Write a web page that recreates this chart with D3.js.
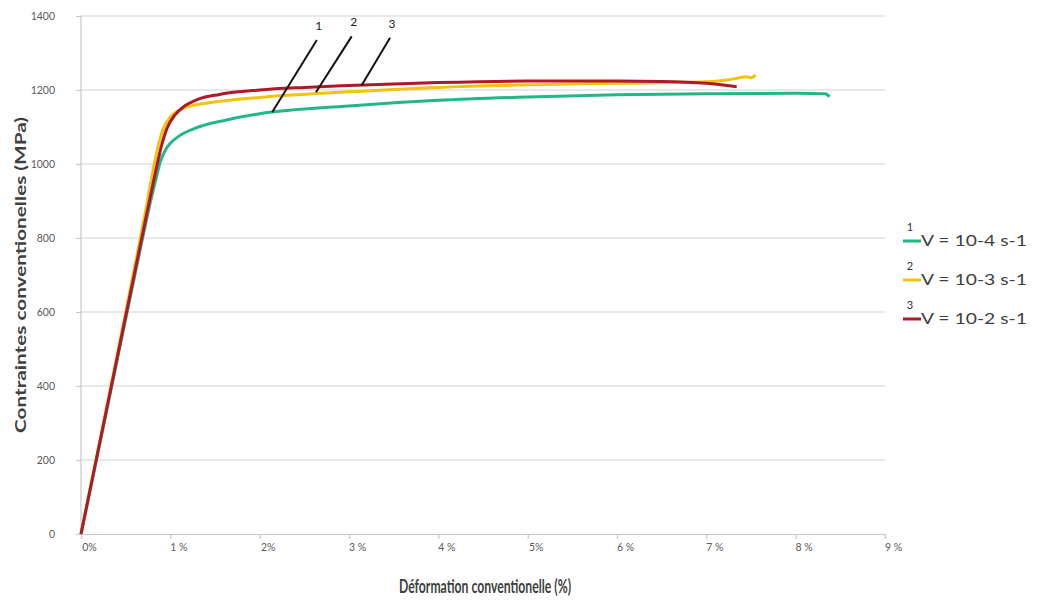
<!DOCTYPE html>
<html><head><meta charset="utf-8">
<script src="https://cdn.jsdelivr.net/npm/d3@7"></script>
<style>body{margin:0;background:#fff}svg{display:block}text{font-family:Lato,"Open Sans",sans-serif}</style>
</head><body><svg id="c" width="1047" height="600"></svg>
<script>
const xTicks=[0,1,2,3,4,5,6,7,8,9];
const xTickLabels=["0%","1 %","2%","3 %","4 %","5%","6 %","7 %","8 %","9 %"];
const yTicks=[0,200,400,600,800,1000,1200,1400];
const seriesNames=["V = 10-4 s-1","V = 10-3 s-1","V = 10-2 s-1"];
const seriesNums=["1","2","3"];
const colors=["#22b884","#f2c30f","#b0182a"];
const greenPts=[[0,0],[0.345,400],[0.69,800],[0.78,900],[0.84,960],[0.89,1008],[0.95,1040],[1.0,1056],[1.1,1076],[1.26,1095],[1.63,1119],[2.0,1136],[3.0,1157],[4.0,1172],[5.0,1181],[6.0,1187],[7.0,1190],[8.0,1191],[8.33,1190],[8.38,1182]];
const yellowPts=[[0,0],[0.335,400],[0.665,800],[0.74,895],[0.80,975],[0.86,1045],[0.92,1095],[0.99,1124],[1.08,1143],[1.2,1155],[1.45,1166],[2.0,1180],[3.0,1195],[4.0,1207],[5.0,1214],[6.0,1218],[7.0,1222],[7.23,1227],[7.35,1232],[7.45,1236],[7.5,1233],[7.55,1241]];
const redPts=[[0,0],[0.34,400],[0.68,800],[0.77,905],[0.84,985],[0.90,1048],[0.96,1095],[1.05,1132],[1.15,1155],[1.3,1174],[1.55,1188],[2.0,1200],[2.5,1207],[3.0,1212],[4.0,1220],[5.0,1224],[6.0,1224],[6.5,1223],[7.0,1218],[7.34,1209]];
const series=[greenPts,yellowPts,redPts];
// annotation leader lines: [strain, stress] at the curve end and at the top end
const annot=[{num:"1",from:[2.14,1140],to:[2.64,1335]},{num:"2",from:[2.63,1194],to:[3.03,1345]},{num:"3",from:[3.14,1212],to:[3.46,1341]}];

const svg=d3.select("#c");
const L=81,R=885,T=16,B=534;
const x=d3.scaleLinear().domain([0,9]).range([L,R]);
const y=d3.scaleLinear().domain([0,1400]).range([B,T]);

svg.append("g").selectAll("line").data(yTicks.filter(d=>d>0)).join("line")
 .attr("x1",L).attr("x2",R).attr("y1",d=>y(d)).attr("y2",d=>y(d))
 .attr("stroke","#d4d4d4").attr("stroke-width",1.2);
const yAx=svg.append("g").attr("transform",`translate(${L},0)`)
 .call(d3.axisLeft(y).tickValues(yTicks).tickSize(5).tickFormat(d3.format("d")));
const xAx=svg.append("g").attr("transform",`translate(0,${B})`)
 .call(d3.axisBottom(x).tickValues(xTicks).tickSize(5).tickFormat((d,i)=>xTickLabels[i]));
[yAx,xAx].forEach(g=>{
 g.selectAll("path,line").attr("stroke","#c8c8c8").attr("stroke-width",1.2);
 g.selectAll("text").attr("fill","#5a5a5a").attr("font-size",10.5);
});
yAx.select(".domain").attr("d",`M0,${T}V${B}`);
yAx.selectAll("text").attr("x",-26);
xAx.selectAll("text").attr("dx",8).attr("y",10);

const line=d3.line().x(d=>x(d[0])).y(d=>y(d[1])).curve(d3.curveMonotoneX);
series.forEach((s,i)=>{
 svg.append("path").datum(s).attr("d",line).attr("fill","none")
  .attr("stroke",colors[i]).attr("stroke-width",3).attr("stroke-linejoin","round");
});

const ag=svg.append("g");
annot.forEach(a=>{
 ag.append("line").attr("x1",x(a.from[0])).attr("y1",y(a.from[1]))
  .attr("x2",x(a.to[0])).attr("y2",y(a.to[1])).attr("stroke","#111").attr("stroke-width",2);
 ag.append("text").attr("x",x(a.to[0])+2).attr("y",y(a.to[1])-10)
  .attr("text-anchor","middle").attr("font-size",12).attr("fill","#222").text(a.num);
});

const lg=svg.append("g");
seriesNames.forEach((n,i)=>{
 const yy=241+i*39;
 lg.append("line").attr("x1",903).attr("x2",921).attr("y1",yy).attr("y2",yy)
  .attr("stroke",colors[i]).attr("stroke-width",3);
 lg.append("text").attr("x",910).attr("y",yy-10).attr("font-size",11).attr("fill","#333")
  .attr("text-anchor","middle").text(seriesNums[i]);
 lg.append("text").attr("x",921).attr("y",yy+5).attr("font-size",15).attr("fill","#404040")
  .attr("textLength",106).attr("lengthAdjust","spacingAndGlyphs").text(n);
});

svg.append("text").attr("transform","translate(26,275) rotate(-90)").attr("text-anchor","middle")
 .attr("font-size",16).attr("font-weight","bold").attr("fill","#404040")
 .attr("textLength",316).attr("lengthAdjust","spacingAndGlyphs").text("Contraintes conventionelles (MPa)");
svg.append("text").attr("x",485).attr("y",593).attr("text-anchor","middle")
 .attr("font-size",18).attr("font-weight","bold").attr("fill","#404040")
 .attr("textLength",172).attr("lengthAdjust","spacingAndGlyphs").text("Déformation conventionelle (%)");
</script></body></html>
